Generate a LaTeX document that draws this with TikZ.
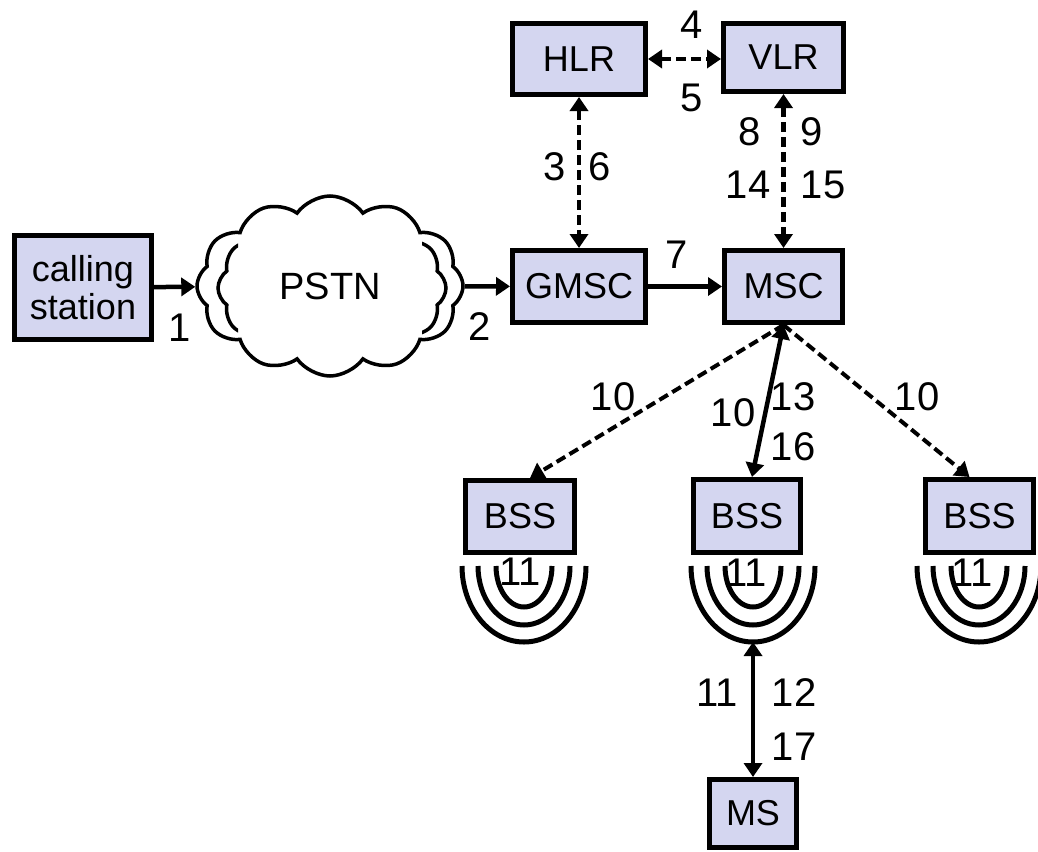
\documentclass[tikz,border=0pt]{standalone}
\usepackage{fontspec}
\setmainfont{Liberation Sans}
\usetikzlibrary{arrows.meta,shapes.symbols}
\definecolor{boxfill}{RGB}{212,214,240}
\tikzset{
  unit/.style={draw, line width=5pt, fill=boxfill, inner sep=0pt, align=center,
    font=\fontsize{36}{38}\selectfont},
  num/.style={inner sep=0pt, font=\fontsize{40}{44}\selectfont},
  tip/.tip={Triangle[length=14pt,width=18pt]},
  link/.style={line width=4.5pt, -tip},
  both/.style={line width=4.5pt, tip-tip},
  dashlink/.style={dash pattern=on 10pt off 5pt},
  radio/.style={line width=5pt},
  puffy/.style={cloud, cloud puffs=12, cloud puff arc=110, draw, line width=3.5pt,
    inner sep=0pt, font=\fontsize{38}{40}\selectfont}
}

\begin{document}
\begin{tikzpicture}[x=1pt,y=-1pt]
  \useasboundingbox (0,0) rectangle (1038,851);

  \node[unit, minimum width=137pt, minimum height=104pt] (cs) at (83,287.5) {calling\\station};
  \node[puffy, aspect=1.5, minimum width=266pt, minimum height=180pt] (pstn) at (330,286) {PSTN};
  \begin{scope}
    \clip (185,150) rectangle (238,420) (422,150) rectangle (480,420);
    \node[puffy, aspect=1.45, minimum width=228pt, minimum height=156pt] (pstnrim) at (332,288) {};
  \end{scope}
  \node[unit, minimum width=133pt, minimum height=72pt] (gmsc) at (579,286.5) {GMSC};
  \node[unit, minimum width=118pt, minimum height=72pt] (msc) at (783.5,286.5) {MSC};
  \node[unit, minimum width=133pt, minimum height=71pt] (hlr) at (579,59) {HLR};
  \node[unit, minimum width=120pt, minimum height=68pt] (vlr) at (783.5,57.5) {VLR};
  \node[unit, minimum width=109pt, minimum height=72pt] (bssl) at (520,516.5) {BSS};
  \node[unit, minimum width=107pt, minimum height=73pt] (bssm) at (747,516) {BSS};
  \node[unit, minimum width=108pt, minimum height=73pt] (bssr) at (979.5,516) {BSS};
  \node[unit, minimum width=87pt, minimum height=68pt] (ms) at (753,813.5) {MS};

  \foreach \cx in {524,753,979}
    \foreach \rx/\ry in {62/76,46/59,28/41}
      \draw[radio] (\cx-\rx,566) arc[start angle=180, end angle=0, x radius=\rx, y radius=\ry];
  \coordinate (rb) at (753,642);

  \draw[link] (cs) -- (pstn);
  \draw[link] (pstn) -- (gmsc);
  \draw[link] (gmsc) -- (msc);
  \draw[both, dashlink] (hlr.east) -- (vlr.west |- hlr.east);
  \draw[both, dashlink] (hlr) -- (gmsc);
  \draw[both, dashlink] (vlr) -- (msc);
  \draw[link, dashlink, line width=4pt] (msc.south) -- ([xshift=10pt]bssl.north);
  \draw[link, dashlink, line width=4pt] (msc.south) -- ([xshift=-10pt]bssr.north);
  \draw[both] (msc.south) -- ([xshift=5pt]bssm.north);
  \draw[both] (rb) -- (ms);

  \node[num] (n1) at (180,328) {1};
  \node[num] (n2) at (480,327) {2};
  \node[num] (n3) at (555,167) {3};
  \node[num] (n4) at (692,25) {4};
  \node[num] (n5) at (692,98) {5};
  \node[num] (n6) at (600,167) {6};
  \node[num] (n7) at (677,255) {7};
  \node[num] (n8) at (750,132) {8};
  \node[num] (n9) at (812,132) {9};
  \node[num] (n14) at (748,185) {14};
  \node[num] (n15) at (823,185) {15};
  \node[num] (n10l) at (613,397) {10};
  \node[num] (n10m) at (733,413) {10};
  \node[num] (n13) at (793,397) {13};
  \node[num] (n16) at (793,447) {16};
  \node[num] (n10r) at (917,397) {10};
  \node[num] (n11l) at (520,572) {11};
  \node[num] (n11m) at (746,573) {11};
  \node[num] (n11r) at (972,573) {11};
  \node[num] (n11) at (717,693) {11};
  \node[num] (n12) at (794,693) {12};
  \node[num] (n17) at (794,747) {17};
\end{tikzpicture}
\end{document}
